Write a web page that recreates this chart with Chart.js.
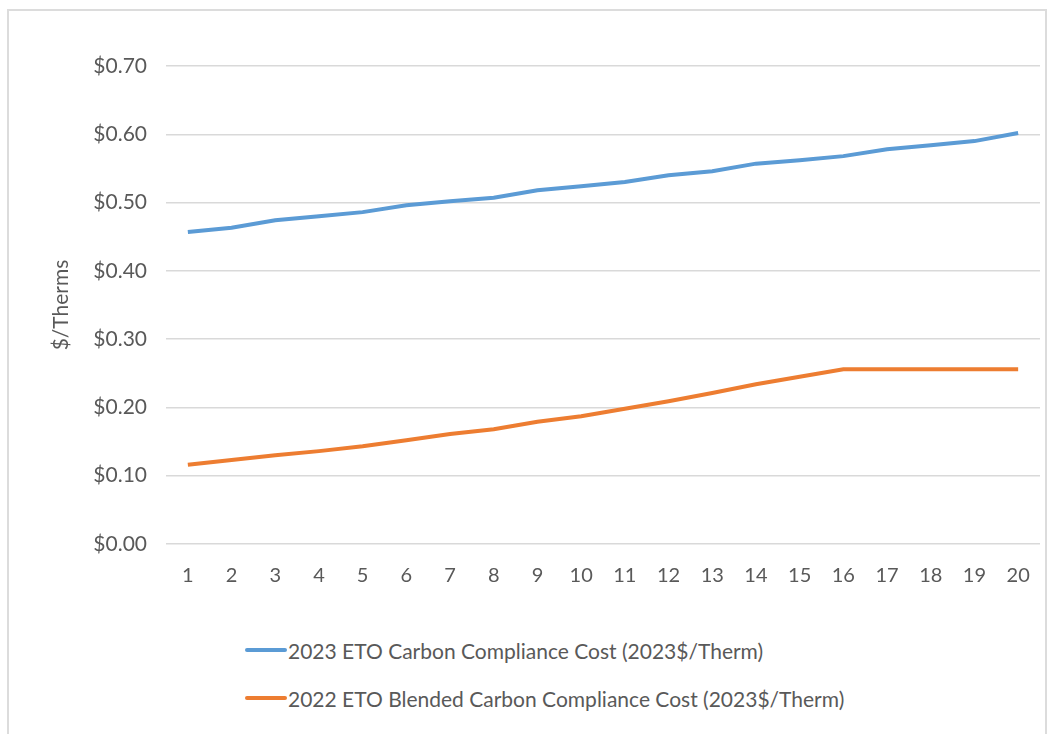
<!DOCTYPE html>
<html>
<head>
<meta charset="utf-8">
<script src="https://cdn.jsdelivr.net/npm/chart.js@4.4.0/dist/chart.umd.min.js"></script>
<style>
  html, body { margin: 0; padding: 0; background: #fff; }
  body { width: 1052px; height: 734px; position: relative; overflow: hidden; font-family: Lato, "Open Sans", sans-serif; }
  #frame { position: absolute; left: 7px; top: 9px; width: 1040px; height: 760px; border: 2px solid #dcdcdc; box-sizing: border-box; }
  #wrap { position: absolute; left: 0; top: 0; width: 1052px; height: 600px; }
  #legend { position: absolute; left: 245px; top: 636px; }
  .item { display: flex; align-items: center; height: 28px; margin-bottom: 20px; font-size: 21px; color: #595959; }
  .swatch { width: 42px; height: 4px; margin-right: 1px; border-radius: 2px; }
</style>
</head>
<body>
<div id="frame"></div>
<div id="wrap"><canvas id="chart"></canvas></div>
<div id="legend"></div>
<script>
// ── data ────────────────────────────────────────────────────────────────────
const years = ["1", "2", "3", "4", "5", "6", "7", "8", "9", "10",
               "11", "12", "13", "14", "15", "16", "17", "18", "19", "20"];

const cost2023 = [0.457, 0.463, 0.474, 0.480, 0.486, 0.496, 0.502, 0.507, 0.518, 0.524,
                  0.530, 0.540, 0.546, 0.557, 0.562, 0.568, 0.578, 0.584, 0.590, 0.602];

const blended2022 = [0.116, 0.123, 0.130, 0.136, 0.143, 0.152, 0.161, 0.168, 0.179, 0.187,
                     0.198, 0.209, 0.221, 0.234, 0.245, 0.256, 0.256, 0.256, 0.256, 0.256];

const seriesNames = ["2023 ETO Carbon Compliance Cost (2023$/Therm)",
                     "2022 ETO Blended Carbon Compliance Cost (2023$/Therm)"];
const seriesColors = ["#5b9bd5", "#ed7d31"];

// ── chart ───────────────────────────────────────────────────────────────────
const FONT = "Lato, 'Open Sans', sans-serif";
const TEXT = "#595959";

const ctx = document.getElementById("chart").getContext("2d");
new Chart(ctx, {
    type: "line",
    data: {
        labels: years,
        datasets: [
            { label: seriesNames[0], data: cost2023, borderColor: seriesColors[0], borderWidth: 4, pointRadius: 0, tension: 0 },
            { label: seriesNames[1], data: blended2022, borderColor: seriesColors[1], borderWidth: 4, pointRadius: 0, tension: 0 },
        ],
    },
    options: {
        responsive: true,
        maintainAspectRatio: false,
        animation: false,
        layout: { padding: { top: 66, right: 12, bottom: 0, left: 0 } },
        plugins: { legend: { display: false }, tooltip: { enabled: false } },
        scales: {
            x: {
                offset: true,
                grid: { display: false },
                border: { display: false },
                ticks: { color: TEXT, font: { family: FONT, size: 20 }, padding: 12, maxRotation: 0 },
                afterFit: s => { s.height = 56; },
            },
            y: {
                min: 0,
                max: 0.7,
                grid: { color: "#d9d9d9", lineWidth: 1.5, drawTicks: false },
                border: { display: false },
                ticks: {
                    stepSize: 0.1,
                    padding: 19,
                    color: TEXT,
                    font: { family: FONT, size: 21 },
                    callback: v => "$" + v.toFixed(2),
                },
                title: {
                    display: true,
                    text: "$/Therms",
                    color: TEXT,
                    font: { family: FONT, size: 21 },
                    padding: { top: 49, bottom: 0 },
                },
                afterFit: s => { s.width = 166; },
            },
        },
    },
});

// ── legend (stacked, left aligned like the original) ────────────────────────
const legend = document.getElementById("legend");
seriesNames.forEach((name, i) => {
    const row = document.createElement("div");
    row.className = "item";
    row.innerHTML = `<span class="swatch" style="background:${seriesColors[i]}"></span><span>${name}</span>`;
    legend.appendChild(row);
});
</script>
</body>
</html>
